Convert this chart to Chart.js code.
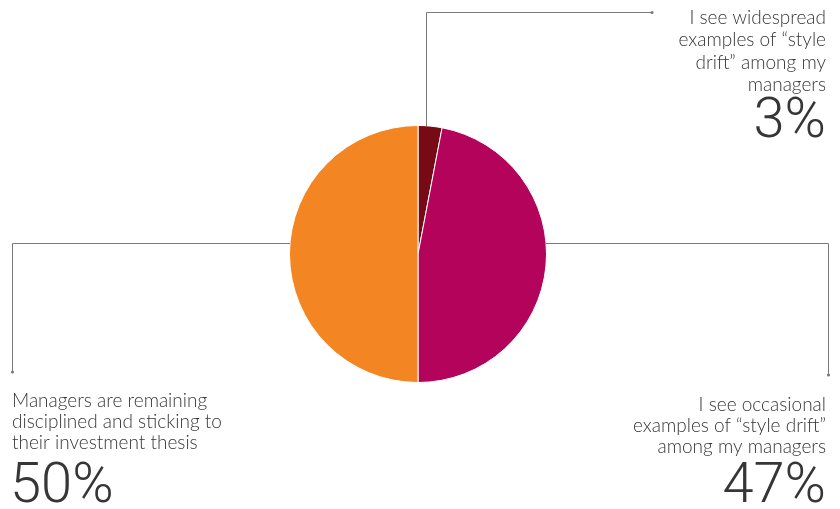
<!DOCTYPE html>
<html>
<head>
<meta charset="utf-8">
<script src="https://cdn.jsdelivr.net/npm/chart.js@4/dist/chart.umd.min.js"></script>
<style>
  html, body { margin: 0; padding: 0; background: #fff; }
  #wrap { width: 840px; height: 509px; }
</style>
</head>
<body>
<div id="wrap"><canvas id="styleDriftChart" width="840" height="509"></canvas></div>
<script>
// Survey answers
const answers = [
  ['I see widespread', 'examples of \u201cstyle', 'drift\u201d among my', 'managers'],
  ['I see occasional', 'examples of \u201cstyle drift\u201d', 'among my managers'],
  ['Managers are remaining', 'disciplined and sticking to', 'their investment thesis']
];
const shares = [3, 47, 50];
const sliceColors = ['#760b15', '#b4035a', '#f38522'];

const lineColor = '#7a7a7a';
const textColor = '#363636';
const labelFont = '300 19px Lato, "Open Sans", sans-serif';
const bigFont = '300 56px Roboto, "DejaVu Sans", sans-serif';

// Leader lines and callout text
const calloutPlugin = {
  id: 'callouts',
  afterDraw(chart) {
    const ctx = chart.ctx;
    const arcs = chart.getDatasetMeta(0).data;
    const cx = arcs[0].x, cy = arcs[0].y, r = arcs[0].outerRadius;
    const W = chart.width;
    const lineY = cy - 11;
    const edgeX = Math.sqrt(r * r - 11 * 11);

    ctx.save();
    ctx.strokeStyle = lineColor;
    ctx.fillStyle = lineColor;
    ctx.lineWidth = 1;

    function dot(x, y) {
      ctx.beginPath();
      ctx.arc(x, y, 1.6, 0, Math.PI * 2);
      ctx.fill();
    }

    // big percentage
    function bigText(txt, x, y, align) {
      ctx.save();
      ctx.font = bigFont;
      ctx.textAlign = align;
      ctx.fillText(txt, x, y);
      ctx.restore();
    }

    // 3% slice: up from the top edge, then right
    const a0 = arcs[0];
    const mid0 = (a0.startAngle + a0.endAngle) / 2;
    const x0 = Math.round(cx + r * 0.7 * Math.cos(mid0)) + 0.5;
    const y0 = cy + r * Math.sin(mid0);
    ctx.beginPath();
    ctx.moveTo(x0, y0);
    ctx.lineTo(x0, 12.5);
    ctx.lineTo(652, 12.5);
    ctx.stroke();
    dot(652, 12.5);

    // 47% slice: right, then down
    ctx.beginPath();
    ctx.moveTo(cx + edgeX, lineY + 0.5);
    ctx.lineTo(W - 11.5, lineY + 0.5);
    ctx.lineTo(W - 11.5, 375);
    ctx.stroke();
    dot(W - 11.5, 375);

    // 50% slice: left, then down
    ctx.beginPath();
    ctx.moveTo(cx - edgeX, lineY + 0.5);
    ctx.lineTo(12.5, lineY + 0.5);
    ctx.lineTo(12.5, 372);
    ctx.stroke();
    dot(12.5, 372);

    ctx.fillStyle = textColor;
    ctx.textBaseline = 'middle';

    // top right block
    ctx.textAlign = 'right';
    ctx.font = labelFont;
    answers[0].forEach((t, i) => ctx.fillText(t, 826, 18 + i * 22.3));
    bigText(shares[0] + '%', 826, 123, 'right');

    // bottom right block
    ctx.font = labelFont;
    answers[1].forEach((t, i) => ctx.fillText(t, 826, 405 + i * 20.8));
    bigText(shares[1] + '%', 826, 488, 'right');

    // bottom left block
    ctx.textAlign = 'left';
    ctx.font = labelFont;
    answers[2].forEach((t, i) => ctx.fillText(t, 12, 401 + i * 21));
    bigText(shares[2] + '%', 10, 488, 'left');

    ctx.restore();
  }
};

const ctx = document.getElementById('styleDriftChart').getContext('2d');
const styleDriftChart = new Chart(ctx, {
  type: 'pie',
  data: {
    labels: answers.map(a => a.join(' ')),
    datasets: [{
      data: shares,
      backgroundColor: sliceColors,
      borderColor: '#ffffff',
      borderWidth: 1
    }]
  },
  options: {
    responsive: false,
    animation: false,
    layout: {
      padding: { top: 125, bottom: 126, left: 289, right: 293 }
    },
    plugins: {
      legend: { display: false },
      tooltip: { enabled: false }
    }
  },
  plugins: [calloutPlugin]
});
</script>
</body>
</html>
